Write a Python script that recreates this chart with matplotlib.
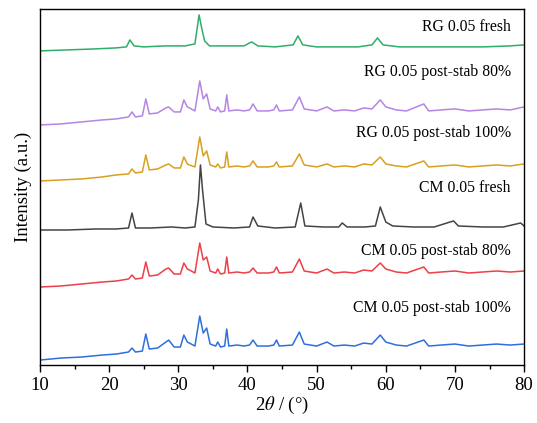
import numpy as np
import matplotlib
matplotlib.use("Agg")
import matplotlib.pyplot as plt

plt.rcParams['font.family'] = ['Liberation Serif', 'DejaVu Serif']
plt.rcParams['mathtext.fontset'] = 'stix'

# 2theta points shared by the four post-stab patterns
x_post = [10, 13, 16, 19, 21, 22.8, 23.3, 23.8, 24.8, 25.3, 25.8, 27.0, 28.2, 28.6,
          29.4, 30.3, 30.8, 31.3, 31.6, 32.4, 33.1, 33.6, 34.1, 34.6, 35.4, 35.7,
          36.1, 36.7, 37.0, 37.3, 38.5, 39.5, 40.3, 40.8, 41.4, 43.0, 43.8, 44.2,
          44.6, 46.5, 47.5, 48.2, 50.0, 51.5, 52.5, 54.0, 55.5, 56.8, 58.0, 59.2,
          60.0, 61.5, 63.0, 65.5, 66.2, 68.0, 70.0, 72.0, 74.0, 76.0, 78.0, 80.0]

rg_80 = [0, 1, 3, 5, 6, 8, 13, 8, 9, 26, 11, 12, 17, 18, 13, 13, 25, 18, 17, 14, 44,
         26, 31, 16, 14, 18, 13, 14, 30, 14, 15, 14, 15, 21, 14, 14, 15, 20, 14, 15,
         28, 16, 14, 18, 14, 15, 14, 17, 16, 25, 18, 15, 14, 21, 14, 15, 16, 14, 15,
         16, 15, 18]
rg_100 = [0, 1, 2, 4, 6, 7, 12, 8, 9, 26, 11, 12, 16, 17, 13, 13, 24, 17, 16, 14, 44,
          25, 30, 16, 14, 17, 13, 14, 29, 14, 15, 14, 15, 20, 14, 14, 15, 19, 14, 15,
          27, 16, 14, 17, 14, 15, 14, 17, 16, 24, 17, 15, 14, 20, 14, 15, 16, 14, 15,
          16, 15, 17]
cm_80 = [0, 1, 3, 5, 6, 8, 12, 8, 9, 25, 11, 12, 18, 19, 13, 13, 24, 18, 17, 14, 44,
         27, 30, 16, 14, 18, 13, 14, 30, 14, 15, 14, 15, 19, 14, 14, 15, 20, 14, 15,
         28, 16, 14, 18, 14, 15, 14, 17, 16, 24, 18, 15, 14, 20, 14, 15, 16, 14, 15,
         16, 15, 16]
cm_100 = [0, 2, 3, 5, 6, 8, 12, 8, 9, 26, 11, 12, 18, 20, 13, 13, 25, 18, 17, 14, 44,
          27, 32, 16, 14, 18, 13, 14, 31, 14, 15, 14, 15, 20, 14, 14, 15, 20, 14, 15,
          28, 16, 14, 18, 14, 15, 14, 17, 16, 25, 18, 15, 14, 20, 14, 15, 16, 14, 15,
          16, 15, 16]

x_rg_fresh = [10, 14, 18, 21, 22.5, 23.0, 23.6, 25, 28, 31, 32.4, 33.0, 33.4, 33.8,
              34.5, 37, 39.5, 40.6, 41.5, 44, 46.6, 47.3, 48.0, 50, 53, 56, 58.0,
              58.8, 59.6, 62, 66, 70, 74, 78, 80]
rg_fresh = [0, 1, 2, 3, 4, 11, 5, 4, 5, 5, 7, 36, 22, 10, 5, 5, 5, 9, 5, 4, 6, 15, 6,
            4, 4, 4, 6, 13, 6, 4, 4, 4, 4, 5, 6]

x_cm_fresh = [10, 14, 18, 21, 22.8, 23.3, 23.8, 26, 29, 31, 32.4, 32.9, 33.2, 33.5,
              34.0, 35, 38, 40.3, 40.8, 41.5, 44, 46.9, 47.7, 48.3, 51, 53.2, 53.7,
              54.4, 57, 58.5, 59.2, 60.0, 61, 64, 67, 69.3, 69.8, 70.5, 74, 77, 79.5, 80]
cm_fresh = [0, 0, 1, 1, 2, 17, 2, 2, 3, 2, 3, 30, 65, 40, 6, 3, 2, 3, 13, 4, 2, 3, 27,
            4, 3, 3, 7, 3, 3, 4, 23, 8, 4, 3, 3, 8, 9, 4, 3, 3, 7, 4]

labels = ['RG 0.05 fresh', 'RG 0.05 post-stab 80%', 'RG 0.05 post-stab 100%',
          'CM 0.05 fresh', 'CM 0.05 post-stab 80%', 'CM 0.05 post-stab 100%']

series = [(x_rg_fresh, rg_fresh), (x_post, rg_80), (x_post, rg_100),
          (x_cm_fresh, cm_fresh), (x_post, cm_80), (x_post, cm_100)]
colors = ['#2fae6a', '#b585e3', '#d8a020', '#444444', '#ee3f48', '#2e6fdb']
offsets = [314, 240, 184, 135, 78, 5]
label_y = [338, 293, 232, 177, 114, 57]

fig = plt.figure(figsize=(5.37, 4.23), dpi=100)
ax = fig.add_axes([0.0745, 0.137, 0.9015, 0.842])

for (x, y), c, off in zip(series, colors, offsets):
    ax.plot(x, np.array(y) + off, color=c, lw=1.1)

for lab, ly in zip(labels, label_y):
    ax.text(78.1, ly, lab, ha='right', va='center', fontsize=11.3)

ax.set_xlim(10, 80)
ax.set_ylim(0, 356)
ax.set_xticks(range(10, 81, 10))
ax.set_xticks(range(15, 80, 10), minor=True)
ax.set_yticks([])
ax.tick_params(axis='x', which='major', direction='out', length=5, width=1,
               labelsize=13.5, top=False)
ax.tick_params(axis='x', which='minor', direction='out', length=3, width=1)
for s in ax.spines.values():
    s.set_linewidth(1)
ax.set_xlabel(r'2$\it{\theta}$ / (°)', fontsize=13.5, labelpad=1)
ax.set_ylabel('Intensity (a.u.)', fontsize=13.5, labelpad=6)

fig.savefig('out.png', dpi=100)
